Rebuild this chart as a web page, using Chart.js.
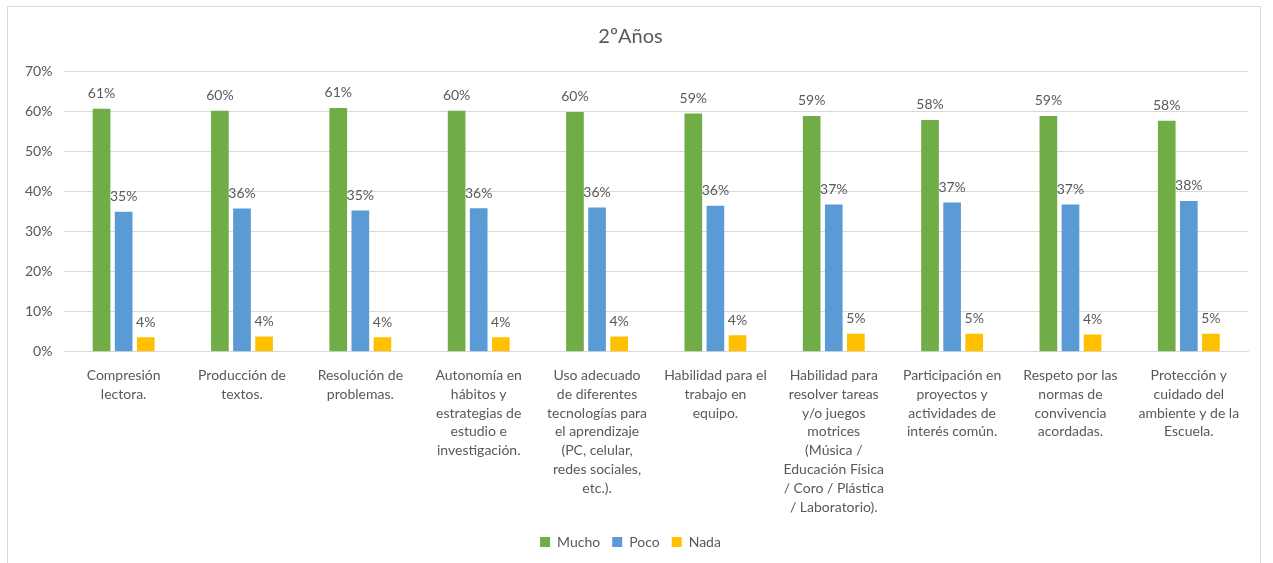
<!DOCTYPE html>
<html>
<head>
<meta charset="utf-8">
<script src="https://cdn.jsdelivr.net/npm/chart.js@4/dist/chart.umd.min.js"></script>
<style>
  html, body { margin:0; padding:0; background:#fff; }
  body { width:1273px; height:563px; overflow:hidden; position:relative; }
  #box { position:absolute; left:7px; top:6px; width:1254px; height:570px; border:1px solid #d9d9d9; box-sizing:border-box; }
  #wrap { position:absolute; left:8px; top:7px; width:1252px; height:556px; }
</style>
</head>
<body>
<div id="box"></div>
<div id="wrap"><canvas id="chart"></canvas></div>
<script>
const categories = [
  ['Compresión', 'lectora.'],
  ['Producción de', 'textos.'],
  ['Resolución de', 'problemas.'],
  ['Autonomía en', 'hábitos y', 'estrategias de', 'estudio e', 'investigación.'],
  ['Uso adecuado', 'de diferentes', 'tecnologías para', 'el aprendizaje', '(PC, celular,', 'redes sociales,', 'etc.).'],
  ['Habilidad para el', 'trabajo en', 'equipo.'],
  ['Habilidad para', 'resolver tareas', 'y/o juegos', 'motrices', '(Música /', 'Educación Física', '/ Coro / Plástica', '/ Laboratorio).'],
  ['Participación en', 'proyectos y', 'actividades de', 'interés común.'],
  ['Respeto por las', 'normas de', 'convivencia', 'acordadas.'],
  ['Protección y', 'cuidado del', 'ambiente y de la', 'Escuela.']
];
const mucho = [60.6, 60.1, 60.8, 60.1, 59.8, 59.4, 58.8, 57.8, 58.8, 57.6];
const poco  = [34.9, 35.7, 35.2, 35.8, 36.0, 36.4, 36.7, 37.2, 36.7, 37.6];
const nada  = [3.6, 3.8, 3.6, 3.6, 3.8, 4.1, 4.5, 4.5, 4.3, 4.5];
const yTicks = [0, 10, 20, 30, 40, 50, 60, 70];

const FONT = 'Lato, "Open Sans", sans-serif';
const TEXT = '#595959';

/* ---------- value labels above bars ---------- */
const barLabels = {
  id: 'barLabels',
  afterDatasetsDraw(chart){
    const ctx = chart.ctx;
    ctx.save();
    ctx.font = `14px ${FONT}`;
    ctx.fillStyle = TEXT;
    ctx.textAlign = 'center';
    ctx.textBaseline = 'bottom';
    chart.data.datasets.forEach((ds, i) => {
      chart.getDatasetMeta(i).data.forEach((bar, j) => {
        ctx.fillText(`${Math.round(ds.data[j])}%`, bar.x, bar.y - 8);
      });
    });
    ctx.restore();
  }
};

new Chart(document.getElementById('chart'), {
  type: 'bar',
  data: {
    labels: categories,
    datasets: [
      { label: 'Mucho', data: mucho, backgroundColor: '#70ad47' },
      { label: 'Poco', data: poco, backgroundColor: '#5b9bd5' },
      { label: 'Nada', data: nada, backgroundColor: '#ffc000' }
    ]
  },
  options: {
    responsive: true,
    maintainAspectRatio: false,
    animation: false,
    datasets: { bar: { categoryPercentage: 0.56, barPercentage: 0.8 } },
    layout: { padding: { left: 5, right: 12, top: 8, bottom: 4 } },
    plugins: {
      title: {
        display: true, text: '2ºAños', color: TEXT,
        font: { family: FONT, size: 20, weight: 'normal' },
        padding: { top: 10, bottom: 22 }
      },
      legend: {
        position: 'bottom',
        labels: {
          color: TEXT, font: { family: FONT, size: 14 },
          boxWidth: 10, boxHeight: 10, padding: 12
        }
      },
      tooltip: { enabled: false }
    },
    scales: {
      x: {
        grid: { display: false },
        border: { color: '#d9d9d9' },
        ticks: {
          color: TEXT, font: { family: FONT, size: 14, lineHeight: 1.35 },
          maxRotation: 0, autoSkip: false, padding: 6
        }
      },
      y: {
        min: 0, max: 70,
        afterBuildTicks: (axis) => { axis.ticks = yTicks.map(v => ({ value: v })); },
        grid: { color: '#d9d9d9', drawTicks: false },
        border: { display: false },
        ticks: {
          color: TEXT, font: { family: FONT, size: 14 }, padding: 12,
          callback: (v) => `${v}%`
        }
      }
    }
  },
  plugins: [barLabels]
});
</script>
</body>
</html>
